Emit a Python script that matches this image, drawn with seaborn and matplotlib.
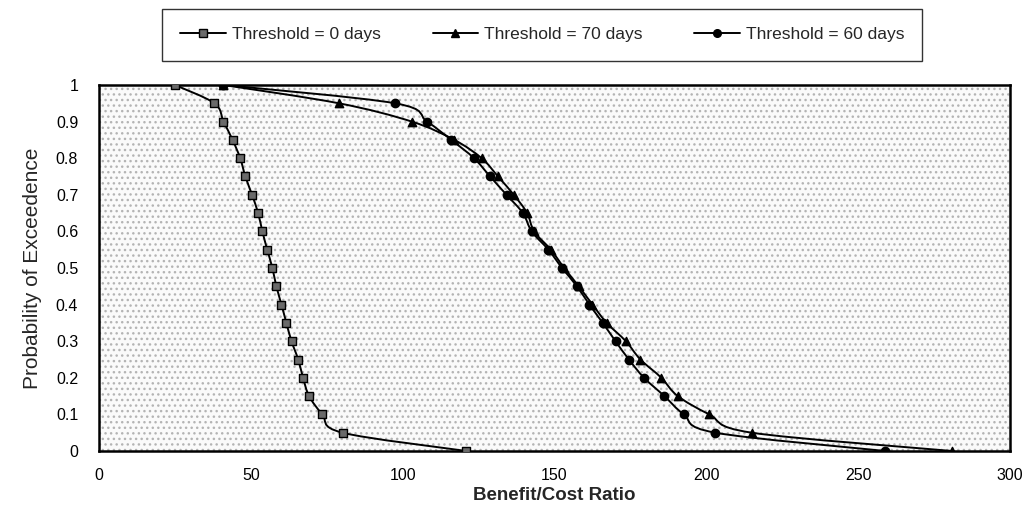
import numpy as np
import pandas as pd
import matplotlib
matplotlib.use("Agg")
import matplotlib.pyplot as plt
import seaborn as sns
from matplotlib.path import Path
from matplotlib.patches import PathPatch, Rectangle
from matplotlib.lines import Line2D

# Exceedance probabilities shared by all three curves
probability = [1.00, 0.95, 0.90, 0.85, 0.80, 0.75, 0.70, 0.65, 0.60, 0.55, 0.50,
               0.45, 0.40, 0.35, 0.30, 0.25, 0.20, 0.15, 0.10, 0.05, 0.00]

# Benefit/cost ratio for each threshold
ratio_0_days = [25, 38, 41, 44, 46.5, 48.2, 50.4, 52.4, 53.8, 55.4, 57.1,
                58.4, 60.1, 61.7, 63.4, 65.6, 67.2, 69.2, 73.6, 80.2, 121]
ratio_70_days = [41, 79, 103, 117, 126, 131.4, 136.6, 141, 143.3, 148.8, 153.2,
                 158, 162.5, 167.2, 173.5, 178.3, 185.2, 190.6, 201, 215, 281]
ratio_60_days = [41, 97.5, 108, 116, 123.5, 128.8, 134.2, 139.6, 142.5, 148, 152.5,
                 157.4, 161.5, 165.9, 170.1, 174.5, 179.5, 186.2, 192.6, 203, 259]

series_names = ["Threshold = 0 days", "Threshold = 70 days", "Threshold = 60 days"]
series_ratios = [ratio_0_days, ratio_70_days, ratio_60_days]

x_ticks = [0, 50, 100, 150, 200, 250, 300]
y_ticks = [0, 0.1, 0.2, 0.3, 0.4, 0.5, 0.6, 0.7, 0.8, 0.9, 1]
y_tick_labels = ["0", "0.1", "0.2", "0.3", "0.4", "0.5", "0.6", "0.7", "0.8", "0.9", "1"]

frames = [pd.DataFrame({"ratio": r, "prob": probability, "series": n})
          for n, r in zip(series_names, series_ratios)]
df = pd.concat(frames, ignore_index=True)

sns.set_theme(style="white")
plt.rcParams["font.family"] = ["Liberation Sans", "DejaVu Sans"]
plt.rcParams["hatch.linewidth"] = 1.0

fig = plt.figure(figsize=(10.27, 5.11), dpi=100)
ax = fig.add_axes([0.0964, 0.1174, 0.887, 0.7163])


def smooth_path(xs, ys):
    """Cubic Bezier path through the points (Catmull-Rom style smoothing)."""
    pts = np.column_stack([xs, ys]).astype(float)
    n = len(pts)
    verts = [pts[0]]
    codes = [Path.MOVETO]
    for i in range(n - 1):
        p0 = pts[i - 1] if i > 0 else pts[i]
        p1 = pts[i]
        p2 = pts[i + 1]
        p3 = pts[i + 2] if i + 2 < n else pts[i + 1]
        c1 = p1 + (p2 - p0) / 6.0
        c2 = p2 - (p3 - p1) / 6.0
        verts += [c1, c2, p2]
        codes += [Path.CURVE4] * 3
    return Path(verts, codes)


# stippled plot background
ax.add_patch(Rectangle((0, 0), 1, 1, transform=ax.transAxes, facecolor="#fafafa",
                       edgecolor="#b4b4b4", hatch="...", linewidth=0, zorder=0))

marker_styles = {
    "Threshold = 0 days": dict(marker="s", face="#6a6a6a", size=36),
    "Threshold = 70 days": dict(marker="^", face="black", size=36),
    "Threshold = 60 days": dict(marker="o", face="black", size=36),
}

for name in series_names:
    sub = df[df["series"] == name]
    ax.add_patch(PathPatch(smooth_path(sub["ratio"], sub["prob"]), fill=False,
                           edgecolor="black", linewidth=1.4, zorder=2))
    st = marker_styles[name]
    sns.scatterplot(data=sub, x="ratio", y="prob", marker=st["marker"], s=st["size"],
                    color=st["face"], edgecolor="black", linewidth=1.0, zorder=3,
                    ax=ax, legend=False)

ax.set_xlim(0, 300)
ax.set_ylim(0, 1)
ax.set_xticks(x_ticks)
ax.set_xticklabels([str(t) for t in x_ticks])
ax.set_yticks(y_ticks)
ax.set_yticklabels(y_tick_labels)
ax.tick_params(axis="x", direction="in", length=4, width=0.8, colors="black",
               labelsize=11.5, pad=12)
ax.tick_params(axis="y", direction="out", length=3, width=0.8, colors="black",
               labelsize=11.5, pad=12)
for sp in ax.spines.values():
    sp.set_visible(True)
    sp.set_color("black")
    sp.set_linewidth(1.8)

ax.set_xlabel("Benefit/Cost Ratio", fontsize=13.5, fontweight="bold", labelpad=3)
ax.set_ylabel("Probability of Exceedence", fontsize=15, labelpad=10)

handles = []
for name in series_names:
    st = marker_styles[name]
    handles.append(Line2D([0], [0], color="black", linewidth=1.4, marker=st["marker"],
                          markersize=5.5, markerfacecolor=st["face"],
                          markeredgecolor="black"))
leg = fig.legend(handles, series_names, loc="center", bbox_to_anchor=(0.528, 0.932),
                 ncol=3, frameon=True, fancybox=False, fontsize=12.5,
                 handlelength=2.6, handletextpad=0.35, columnspacing=3.0,
                 borderpad=1.05, borderaxespad=0)
leg.get_frame().set_edgecolor("black")
leg.get_frame().set_linewidth(1.0)

fig.savefig("out.png", dpi=100)
